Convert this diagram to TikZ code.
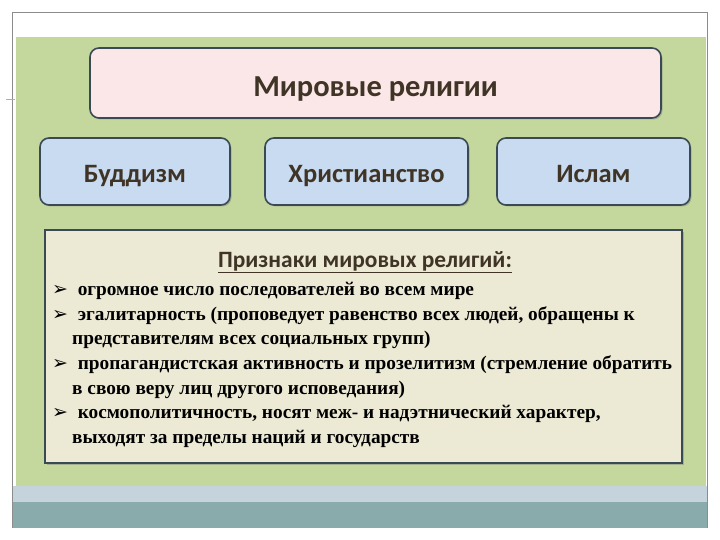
\documentclass[tikz,border=0pt]{standalone}
\usepackage{fontspec}
\usepackage{xcolor}
\usepackage{tikz}
\usetikzlibrary{shadows}
\setmainfont{Carlito}
\newfontfamily\listfont{Liberation Serif}
\newfontfamily\dingfont{DejaVu Sans}

\definecolor{slidegreen}{HTML}{C4D79C}
\definecolor{bandblue}{HTML}{C5D3DC}
\definecolor{bandteal}{HTML}{8AABAB}
\definecolor{framegray}{HTML}{8C8C8C}
\definecolor{pinkfill}{HTML}{FBE7E7}
\definecolor{bluefill}{HTML}{C8DBF1}
\definecolor{beigefill}{HTML}{ECE9D5}
\definecolor{boxline}{HTML}{3A4A55}
\definecolor{darktext}{HTML}{3F3426}

\newcommand{\itemmark}{{\dingfont\fontsize{19}{19}\selectfont ➢}\ \ }

\begin{document}
\begin{tikzpicture}[x=1pt,y=-1pt,
panel/.style={draw=boxline, line width=1.6pt, rounded corners=9pt, align=center, text=darktext,
  drop shadow={shadow xshift=1.5pt, shadow yshift=-1.5pt, opacity=0.45}},
headbox/.style={panel, fill=pinkfill, minimum width=571pt, minimum height=70pt,
  text height=28pt, text depth=0pt, font=\bfseries\fontsize{30.5}{32}\selectfont},
religion/.style={panel, fill=bluefill, minimum height=67pt,
  text height=23pt, text depth=0pt, font=\bfseries\fontsize{26.5}{28}\selectfont},
listbox/.style={draw=boxline, line width=1.6pt, fill=beigefill, minimum width=637pt, minimum height=233pt,
  drop shadow={shadow xshift=1.5pt, shadow yshift=-1.5pt, opacity=0.45}}
]
\useasboundingbox (0,0) rectangle (720,540);
% slide background
\fill[white] (0,0) rectangle (720,540);
\draw[framegray] (12.5,528) -- (12.5,12.5) -- (707.5,12.5) -- (707.5,528);
\draw[framegray!70] (6,99.5) -- (15,99.5);
\fill[slidegreen] (16,37) rectangle (706,486);
\fill[bandblue] (13,486) rectangle (707,502);
\fill[bandteal] (13,502) rectangle (707,528);

% boxes
\node[headbox] (title) at (375.5,83) {Мировые религии};
\node[religion, minimum width=190pt] (budd) at (135,171.5) {Буддизм};
\node[religion, minimum width=203pt] (christ) at (366.5,171.5) {Христианство};
\node[religion, minimum width=193pt] (islam) at (593.5,171.5) {Ислам};
\node[listbox] (signs) at (363.5,346.5) {};

% list of signs
\node[text=darktext, font=\bfseries\fontsize{23.4}{25}\selectfont] (signstitle) at (365,262)
  {\underline{Признаки мировых религий:}};
\node[anchor=north west, align=left, inner sep=0pt,
  font=\listfont\bfseries\fontsize{19.3}{24.7}\selectfont] (items) at (52,282) {%
\itemmark огромное число последователей во всем мире\\
\itemmark эгалитарность (проповедует равенство всех людей, обращены к\\
\hspace*{20pt}представителям всех социальных групп)\\
\itemmark пропагандистская активность и прозелитизм (стремление обратить\\
\hspace*{20pt}в свою веру лиц другого исповедания)\\
\itemmark космополитичность, носят меж- и надэтнический характер,\\
\hspace*{20pt}выходят за пределы наций и государств};
\end{tikzpicture}
\end{document}
